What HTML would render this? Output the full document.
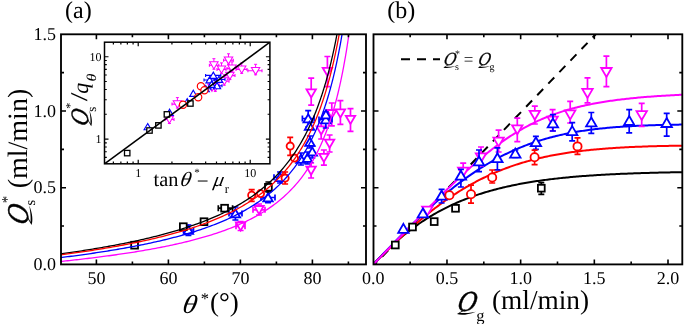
<!DOCTYPE html><html><head><meta charset="utf-8"><style>html,body{margin:0;padding:0;background:#fff;overflow:hidden}svg{display:block;will-change:transform}text{font-family:"Liberation Serif",serif;text-rendering:geometricPrecision}.th text,text.th{stroke:#fff;stroke-width:0px}</style></head><body>
<svg width="685" height="324" viewBox="0 0 685 324">
<defs><clipPath id="ca"><rect x="61" y="34.3" width="305" height="230.1"/></clipPath><clipPath id="cb"><rect x="373.5" y="34.3" width="308.5" height="230.1"/></clipPath><clipPath id="ci"><rect x="104.5" y="42.2" width="165.4" height="121.6"/></clipPath></defs>
<g clip-path="url(#cb)" fill="none" stroke-width="2">
<line x1="374.7" y1="264.4" x2="595.725" y2="34.299999999999955" stroke="#000" stroke-width="2" stroke-dasharray="8.6,7.4" stroke-dashoffset="5.4"/>
<polyline stroke="#000" points="373.3,264.4 374.77,262.8 376.25,261.22 377.72,259.65 379.19,258.11 380.67,256.58 382.14,255.07 383.61,253.58 385.09,252.11 386.56,250.67 388.04,249.24 389.51,247.83 390.98,246.44 392.46,245.07 393.93,243.73 395.4,242.4 396.88,241.09 398.35,239.81 399.82,238.54 401.3,237.29 402.77,236.06 404.24,234.85 405.72,233.66 407.19,232.49 408.66,231.34 410.14,230.2 411.61,229.09 413.08,227.99 414.56,226.91 416.03,225.85 417.5,224.81 418.98,223.78 420.45,222.77 421.93,221.78 423.4,220.8 424.87,219.84 426.35,218.9 427.82,217.98 429.29,217.07 430.77,216.17 432.24,215.29 433.71,214.43 435.19,213.58 436.66,212.75 438.13,211.93 439.61,211.12 441.08,210.33 442.55,209.56 444.03,208.8 445.5,208.05 446.98,207.31 448.45,206.59 449.92,205.88 451.4,205.19 452.87,204.51 454.34,203.84 455.82,203.18 457.29,202.53 458.76,201.9 460.24,201.28 461.71,200.67 463.18,200.07 464.66,199.48 466.13,198.9 467.6,198.34 469.08,197.78 470.55,197.23 472.02,196.7 473.5,196.18 474.97,195.66 476.45,195.16 477.92,194.66 479.39,194.17 480.87,193.7 482.34,193.23 483.81,192.77 485.29,192.32 486.76,191.88 488.23,191.45 489.71,191.03 491.18,190.61 492.65,190.2 494.13,189.8 495.6,189.41 497.07,189.03 498.55,188.65 500.02,188.28 501.49,187.92 502.97,187.57 504.44,187.22 505.92,186.88 507.39,186.54 508.86,186.22 510.34,185.9 511.81,185.58 513.28,185.27 514.76,184.97 516.23,184.68 517.7,184.39 519.18,184.1 520.65,183.82 522.12,183.55 523.6,183.29 525.07,183.02 526.54,182.77 528.02,182.52 529.49,182.27 530.96,182.03 532.44,181.79 533.91,181.56 535.38,181.34 536.86,181.11 538.33,180.9 539.81,180.68 541.28,180.48 542.75,180.27 544.23,180.07 545.7,179.88 547.17,179.69 548.65,179.5 550.12,179.31 551.59,179.13 553.07,178.96 554.54,178.79 556.01,178.62 557.49,178.45 558.96,178.29 560.43,178.13 561.91,177.98 563.38,177.82 564.86,177.68 566.33,177.53 567.8,177.39 569.28,177.25 570.75,177.11 572.22,176.98 573.7,176.85 575.17,176.72 576.64,176.6 578.12,176.47 579.59,176.35 581.06,176.24 582.54,176.12 584.01,176.01 585.48,175.9 586.96,175.79 588.43,175.69 589.9,175.58 591.38,175.48 592.85,175.39 594.33,175.29 595.8,175.2 597.27,175.1 598.75,175.01 600.22,174.92 601.69,174.84 603.17,174.75 604.64,174.67 606.11,174.59 607.59,174.51 609.06,174.43 610.53,174.36 612.01,174.28 613.48,174.21 614.95,174.14 616.43,174.07 617.9,174 619.37,173.94 620.85,173.87 622.32,173.81 623.79,173.75 625.27,173.69 626.74,173.63 628.22,173.57 629.69,173.52 631.16,173.46 632.64,173.41 634.11,173.35 635.58,173.3 637.06,173.25 638.53,173.2 640,173.15 641.48,173.11 642.95,173.06 644.42,173.01 645.9,172.97 647.37,172.93 648.84,172.89 650.32,172.84 651.79,172.8 653.27,172.76 654.74,172.73 656.21,172.69 657.69,172.65 659.16,172.62 660.63,172.58 662.11,172.55 663.58,172.51 665.05,172.48 666.53,172.45 668,172.42 669.47,172.39 670.95,172.36 672.42,172.33 673.89,172.3 675.37,172.27 676.84,172.24 678.31,172.22 679.79,172.19 681.26,172.17 682.74,172.14 684.21,172.12"/>
<polyline stroke="#f00" points="373.3,264.4 374.77,262.92 376.25,261.43 377.72,259.95 379.19,258.48 380.67,257 382.14,255.53 383.61,254.07 385.09,252.61 386.56,251.15 388.04,249.7 389.51,248.26 390.98,246.82 392.46,245.39 393.93,243.97 395.4,242.56 396.88,241.15 398.35,239.75 399.82,238.36 401.3,236.98 402.77,235.6 404.24,234.24 405.72,232.89 407.19,231.54 408.66,230.21 410.14,228.88 411.61,227.57 413.08,226.26 414.56,224.97 416.03,223.69 417.5,222.42 418.98,221.16 420.45,219.91 421.93,218.67 423.4,217.44 424.87,216.23 426.35,215.02 427.82,213.83 429.29,212.65 430.77,211.48 432.24,210.33 433.71,209.19 435.19,208.06 436.66,206.94 438.13,205.83 439.61,204.74 441.08,203.66 442.55,202.59 444.03,201.53 445.5,200.49 446.98,199.46 448.45,198.44 449.92,197.43 451.4,196.44 452.87,195.46 454.34,194.49 455.82,193.54 457.29,192.59 458.76,191.67 460.24,190.75 461.71,189.84 463.18,188.95 464.66,188.07 466.13,187.2 467.6,186.35 469.08,185.51 470.55,184.68 472.02,183.86 473.5,183.05 474.97,182.26 476.45,181.48 477.92,180.71 479.39,179.95 480.87,179.21 482.34,178.48 483.81,177.75 485.29,177.04 486.76,176.35 488.23,175.66 489.71,174.98 491.18,174.32 492.65,173.67 494.13,173.02 495.6,172.39 497.07,171.77 498.55,171.17 500.02,170.57 501.49,169.98 502.97,169.4 504.44,168.84 505.92,168.28 507.39,167.73 508.86,167.2 510.34,166.67 511.81,166.16 513.28,165.65 514.76,165.15 516.23,164.67 517.7,164.19 519.18,163.72 520.65,163.26 522.12,162.81 523.6,162.37 525.07,161.94 526.54,161.52 528.02,161.1 529.49,160.7 530.96,160.3 532.44,159.91 533.91,159.53 535.38,159.16 536.86,158.79 538.33,158.44 539.81,158.09 541.28,157.74 542.75,157.41 544.23,157.08 545.7,156.76 547.17,156.45 548.65,156.14 550.12,155.84 551.59,155.55 553.07,155.27 554.54,154.99 556.01,154.72 557.49,154.45 558.96,154.19 560.43,153.94 561.91,153.69 563.38,153.45 564.86,153.21 566.33,152.98 567.8,152.75 569.28,152.54 570.75,152.32 572.22,152.11 573.7,151.91 575.17,151.71 576.64,151.52 578.12,151.33 579.59,151.14 581.06,150.97 582.54,150.79 584.01,150.62 585.48,150.45 586.96,150.29 588.43,150.14 589.9,149.98 591.38,149.83 592.85,149.69 594.33,149.55 595.8,149.41 597.27,149.28 598.75,149.15 600.22,149.02 601.69,148.9 603.17,148.78 604.64,148.66 606.11,148.55 607.59,148.44 609.06,148.33 610.53,148.23 612.01,148.13 613.48,148.03 614.95,147.93 616.43,147.84 617.9,147.75 619.37,147.66 620.85,147.58 622.32,147.5 623.79,147.42 625.27,147.34 626.74,147.26 628.22,147.19 629.69,147.12 631.16,147.05 632.64,146.98 634.11,146.92 635.58,146.86 637.06,146.8 638.53,146.74 640,146.68 641.48,146.63 642.95,146.57 644.42,146.52 645.9,146.47 647.37,146.42 648.84,146.37 650.32,146.33 651.79,146.28 653.27,146.24 654.74,146.2 656.21,146.16 657.69,146.12 659.16,146.08 660.63,146.05 662.11,146.01 663.58,145.98 665.05,145.95 666.53,145.91 668,145.88 669.47,145.85 670.95,145.82 672.42,145.8 673.89,145.77 675.37,145.74 676.84,145.72 678.31,145.7 679.79,145.67 681.26,145.65 682.74,145.63 684.21,145.61"/>
<polyline stroke="#00f" points="373.3,264.4 374.77,262.85 376.25,261.3 377.72,259.74 379.19,258.19 380.67,256.65 382.14,255.1 383.61,253.55 385.09,252.01 386.56,250.47 388.04,248.93 389.51,247.4 390.98,245.87 392.46,244.34 393.93,242.82 395.4,241.3 396.88,239.79 398.35,238.28 399.82,236.77 401.3,235.27 402.77,233.78 404.24,232.29 405.72,230.81 407.19,229.34 408.66,227.87 410.14,226.41 411.61,224.96 413.08,223.51 414.56,222.07 416.03,220.64 417.5,219.22 418.98,217.8 420.45,216.4 421.93,215 423.4,213.61 424.87,212.23 426.35,210.86 427.82,209.5 429.29,208.15 430.77,206.81 432.24,205.48 433.71,204.16 435.19,202.85 436.66,201.55 438.13,200.26 439.61,198.98 441.08,197.71 442.55,196.46 444.03,195.21 445.5,193.98 446.98,192.75 448.45,191.54 449.92,190.34 451.4,189.16 452.87,187.98 454.34,186.82 455.82,185.66 457.29,184.52 458.76,183.4 460.24,182.28 461.71,181.18 463.18,180.09 464.66,179.01 466.13,177.95 467.6,176.89 469.08,175.85 470.55,174.83 472.02,173.81 473.5,172.81 474.97,171.82 476.45,170.84 477.92,169.88 479.39,168.93 480.87,167.99 482.34,167.07 483.81,166.15 485.29,165.25 486.76,164.37 488.23,163.49 489.71,162.63 491.18,161.78 492.65,160.95 494.13,160.13 495.6,159.32 497.07,158.52 498.55,157.73 500.02,156.96 501.49,156.2 502.97,155.45 504.44,154.72 505.92,153.99 507.39,153.28 508.86,152.58 510.34,151.9 511.81,151.22 513.28,150.56 514.76,149.91 516.23,149.27 517.7,148.64 519.18,148.02 520.65,147.42 522.12,146.83 523.6,146.24 525.07,145.67 526.54,145.11 528.02,144.56 529.49,144.03 530.96,143.5 532.44,142.98 533.91,142.48 535.38,141.98 536.86,141.5 538.33,141.02 539.81,140.56 541.28,140.1 542.75,139.65 544.23,139.22 545.7,138.79 547.17,138.38 548.65,137.97 550.12,137.57 551.59,137.18 553.07,136.8 554.54,136.43 556.01,136.07 557.49,135.71 558.96,135.37 560.43,135.03 561.91,134.7 563.38,134.38 564.86,134.07 566.33,133.76 567.8,133.46 569.28,133.17 570.75,132.89 572.22,132.61 573.7,132.34 575.17,132.08 576.64,131.83 578.12,131.58 579.59,131.34 581.06,131.1 582.54,130.87 584.01,130.65 585.48,130.44 586.96,130.23 588.43,130.02 589.9,129.82 591.38,129.63 592.85,129.44 594.33,129.26 595.8,129.08 597.27,128.91 598.75,128.74 600.22,128.58 601.69,128.43 603.17,128.27 604.64,128.13 606.11,127.98 607.59,127.84 609.06,127.71 610.53,127.58 612.01,127.45 613.48,127.33 614.95,127.21 616.43,127.1 617.9,126.99 619.37,126.88 620.85,126.78 622.32,126.68 623.79,126.58 625.27,126.49 626.74,126.39 628.22,126.31 629.69,126.22 631.16,126.14 632.64,126.06 634.11,125.99 635.58,125.91 637.06,125.84 638.53,125.77 640,125.71 641.48,125.64 642.95,125.58 644.42,125.52 645.9,125.46 647.37,125.41 648.84,125.36 650.32,125.31 651.79,125.26 653.27,125.21 654.74,125.16 656.21,125.12 657.69,125.08 659.16,125.04 660.63,125 662.11,124.96 663.58,124.92 665.05,124.89 666.53,124.86 668,124.82 669.47,124.79 670.95,124.76 672.42,124.74 673.89,124.71 675.37,124.68 676.84,124.66 678.31,124.63 679.79,124.61 681.26,124.59 682.74,124.57 684.21,124.55"/>
<polyline stroke="#f0f" points="373.3,264.4 374.77,262.89 376.25,261.38 377.72,259.87 379.19,258.36 380.67,256.85 382.14,255.34 383.61,253.83 385.09,252.32 386.56,250.81 388.04,249.3 389.51,247.79 390.98,246.28 392.46,244.77 393.93,243.26 395.4,241.75 396.88,240.24 398.35,238.73 399.82,237.22 401.3,235.71 402.77,234.2 404.24,232.69 405.72,231.18 407.19,229.68 408.66,228.17 410.14,226.66 411.61,225.16 413.08,223.65 414.56,222.15 416.03,220.65 417.5,219.15 418.98,217.65 420.45,216.15 421.93,214.65 423.4,213.15 424.87,211.66 426.35,210.17 427.82,208.68 429.29,207.19 430.77,205.7 432.24,204.22 433.71,202.74 435.19,201.26 436.66,199.79 438.13,198.32 439.61,196.85 441.08,195.39 442.55,193.93 444.03,192.48 445.5,191.03 446.98,189.58 448.45,188.14 449.92,186.71 451.4,185.28 452.87,183.86 454.34,182.44 455.82,181.03 457.29,179.63 458.76,178.23 460.24,176.85 461.71,175.47 463.18,174.09 464.66,172.73 466.13,171.38 467.6,170.03 469.08,168.69 470.55,167.37 472.02,166.05 473.5,164.74 474.97,163.45 476.45,162.16 477.92,160.89 479.39,159.63 480.87,158.37 482.34,157.14 483.81,155.91 485.29,154.7 486.76,153.5 488.23,152.31 489.71,151.13 491.18,149.97 492.65,148.83 494.13,147.69 495.6,146.57 497.07,145.47 498.55,144.38 500.02,143.3 501.49,142.24 502.97,141.2 504.44,140.17 505.92,139.15 507.39,138.15 508.86,137.17 510.34,136.2 511.81,135.25 513.28,134.31 514.76,133.39 516.23,132.48 517.7,131.59 519.18,130.71 520.65,129.85 522.12,129.01 523.6,128.18 525.07,127.36 526.54,126.56 528.02,125.78 529.49,125.01 530.96,124.26 532.44,123.52 533.91,122.79 535.38,122.08 536.86,121.39 538.33,120.71 539.81,120.04 541.28,119.39 542.75,118.75 544.23,118.12 545.7,117.51 547.17,116.91 548.65,116.33 550.12,115.75 551.59,115.19 553.07,114.65 554.54,114.11 556.01,113.59 557.49,113.08 558.96,112.58 560.43,112.09 561.91,111.61 563.38,111.14 564.86,110.69 566.33,110.24 567.8,109.81 569.28,109.39 570.75,108.97 572.22,108.57 573.7,108.17 575.17,107.79 576.64,107.41 578.12,107.04 579.59,106.68 581.06,106.33 582.54,105.99 584.01,105.66 585.48,105.33 586.96,105.02 588.43,104.71 589.9,104.4 591.38,104.11 592.85,103.82 594.33,103.54 595.8,103.26 597.27,103 598.75,102.74 600.22,102.48 601.69,102.23 603.17,101.99 604.64,101.75 606.11,101.52 607.59,101.3 609.06,101.07 610.53,100.86 612.01,100.65 613.48,100.45 614.95,100.25 616.43,100.05 617.9,99.86 619.37,99.67 620.85,99.49 622.32,99.32 623.79,99.14 625.27,98.97 626.74,98.81 628.22,98.65 629.69,98.49 631.16,98.34 632.64,98.19 634.11,98.04 635.58,97.9 637.06,97.76 638.53,97.62 640,97.49 641.48,97.36 642.95,97.23 644.42,97.11 645.9,96.99 647.37,96.87 648.84,96.75 650.32,96.64 651.79,96.53 653.27,96.42 654.74,96.31 656.21,96.21 657.69,96.11 659.16,96.01 660.63,95.91 662.11,95.82 663.58,95.73 665.05,95.64 666.53,95.55 668,95.46 669.47,95.38 670.95,95.3 672.42,95.22 673.89,95.14 675.37,95.06 676.84,94.98 678.31,94.91 679.79,94.84 681.26,94.77 682.74,94.7 684.21,94.63"/>
</g>
<path d="M240.6 221.5V230.5M237.6 221.5h6M237.6 230.5h6" stroke="#f0f" stroke-width="1.7" fill="none"/>
<path d="M236 226.3H245M236 223.3v6M245 223.3v6" stroke="#f0f" stroke-width="1.7" fill="none"/>
<path d="M259 204V215M256 204h6M256 215h6" stroke="#f0f" stroke-width="1.7" fill="none"/>
<path d="M253 209.8H265M253 206.8v6M265 206.8v6" stroke="#f0f" stroke-width="1.7" fill="none"/>
<path d="M311.1 163V178M308.1 163h6M308.1 178h6" stroke="#f0f" stroke-width="1.7" fill="none"/>
<path d="M323.9 150V165.1M320.9 150h6M320.9 165.1h6" stroke="#f0f" stroke-width="1.7" fill="none"/>
<path d="M329.6 135V152M326.6 135h6M326.6 152h6" stroke="#f0f" stroke-width="1.7" fill="none"/>
<path d="M321.2 123V139M318.2 123h6M318.2 139h6" stroke="#f0f" stroke-width="1.7" fill="none"/>
<path d="M331.8 103V125.9M328.8 103h6M328.8 125.9h6" stroke="#f0f" stroke-width="1.7" fill="none"/>
<path d="M340.4 100.6V124.4M337.4 100.6h6M337.4 124.4h6" stroke="#f0f" stroke-width="1.7" fill="none"/>
<path d="M350.5 108.6V131.4M347.5 108.6h6M347.5 131.4h6" stroke="#f0f" stroke-width="1.7" fill="none"/>
<path d="M311.2 78.1V105.1M308.2 78.1h6M308.2 105.1h6" stroke="#f0f" stroke-width="1.7" fill="none"/>
<path d="M327.4 56.5V86.7M324.4 56.5h6M324.4 86.7h6" stroke="#f0f" stroke-width="1.7" fill="none"/>
<polygon points="240.6,230.58 245.3,222.5 235.9,222.5" fill="#fff" stroke="#f0f" stroke-width="1.8"/>
<polygon points="259,214.08 263.7,206 254.3,206" fill="#fff" stroke="#f0f" stroke-width="1.8"/>
<polygon points="311.1,174.68 315.8,166.6 306.4,166.6" fill="#fff" stroke="#f0f" stroke-width="1.8"/>
<polygon points="323.9,161.88 328.6,153.8 319.2,153.8" fill="#fff" stroke="#f0f" stroke-width="1.8"/>
<polygon points="329.6,147.78 334.3,139.7 324.9,139.7" fill="#fff" stroke="#f0f" stroke-width="1.8"/>
<polygon points="321.2,134.48 325.9,126.4 316.5,126.4" fill="#fff" stroke="#f0f" stroke-width="1.8"/>
<polygon points="331.8,118.08 336.5,110 327.1,110" fill="#fff" stroke="#f0f" stroke-width="1.8"/>
<polygon points="340.4,117.48 345.1,109.4 335.7,109.4" fill="#fff" stroke="#f0f" stroke-width="1.8"/>
<polygon points="350.5,123.88 355.2,115.8 345.8,115.8" fill="#fff" stroke="#f0f" stroke-width="1.8"/>
<polygon points="311.2,97.48 315.9,89.4 306.5,89.4" fill="#fff" stroke="#f0f" stroke-width="1.8"/>
<polygon points="327.4,75.88 332.1,67.8 322.7,67.8" fill="#fff" stroke="#f0f" stroke-width="1.8"/>
<path d="M188.4 225V235.5M185.4 225h6M185.4 235.5h6" stroke="#00f" stroke-width="1.7" fill="none"/>
<path d="M183.5 230H193.5M183.5 227v6M193.5 227v6" stroke="#00f" stroke-width="1.7" fill="none"/>
<path d="M235.4 207V220M232.4 207h6M232.4 220h6" stroke="#00f" stroke-width="1.7" fill="none"/>
<path d="M229 213.6H242M229 210.6v6M242 210.6v6" stroke="#00f" stroke-width="1.7" fill="none"/>
<path d="M268 191V202.7M265 191h6M265 202.7h6" stroke="#00f" stroke-width="1.7" fill="none"/>
<path d="M261 197.5H275M261 194.5v6M275 194.5v6" stroke="#00f" stroke-width="1.7" fill="none"/>
<path d="M280.1 172V183M277.1 172h6M277.1 183h6" stroke="#00f" stroke-width="1.7" fill="none"/>
<path d="M274 177.3H287M274 174.3v6M287 174.3v6" stroke="#00f" stroke-width="1.7" fill="none"/>
<path d="M300.9 153V165M297.9 153h6M297.9 165h6" stroke="#00f" stroke-width="1.7" fill="none"/>
<path d="M307.4 152V164M304.4 152h6M304.4 164h6" stroke="#00f" stroke-width="1.7" fill="none"/>
<path d="M312.3 146V158M309.3 146h6M309.3 158h6" stroke="#00f" stroke-width="1.7" fill="none"/>
<path d="M309.9 136V148M306.9 136h6M306.9 148h6" stroke="#00f" stroke-width="1.7" fill="none"/>
<path d="M308.2 110.6V127M305.2 110.6h6M305.2 127h6" stroke="#00f" stroke-width="1.7" fill="none"/>
<path d="M302.4 118.5H314.1M302.4 115.5v6M314.1 115.5v6" stroke="#00f" stroke-width="1.7" fill="none"/>
<path d="M325.8 112V128M322.8 112h6M322.8 128h6" stroke="#00f" stroke-width="1.7" fill="none"/>
<path d="M319 119.5H332M319 116.5v6M332 116.5v6" stroke="#00f" stroke-width="1.7" fill="none"/>
<polygon points="188.4,225.72 193.1,233.8 183.7,233.8" fill="#fff" stroke="#00f" stroke-width="1.8"/>
<polygon points="235.4,209.32 240.1,217.4 230.7,217.4" fill="#fff" stroke="#00f" stroke-width="1.8"/>
<polygon points="268,193.22 272.7,201.3 263.3,201.3" fill="#fff" stroke="#00f" stroke-width="1.8"/>
<polygon points="280.1,173.02 284.8,181.1 275.4,181.1" fill="#fff" stroke="#00f" stroke-width="1.8"/>
<polygon points="300.9,154.72 305.6,162.8 296.2,162.8" fill="#fff" stroke="#00f" stroke-width="1.8"/>
<polygon points="307.4,153.82 312.1,161.9 302.7,161.9" fill="#fff" stroke="#00f" stroke-width="1.8"/>
<polygon points="312.3,147.42 317,155.5 307.6,155.5" fill="#fff" stroke="#00f" stroke-width="1.8"/>
<polygon points="309.9,137.72 314.6,145.8 305.2,145.8" fill="#fff" stroke="#00f" stroke-width="1.8"/>
<polygon points="308.2,114.22 312.9,122.3 303.5,122.3" fill="#fff" stroke="#00f" stroke-width="1.8"/>
<polygon points="309.5,121.72 314.2,129.8 304.8,129.8" fill="#fff" stroke="#00f" stroke-width="1.8"/>
<polygon points="325.8,115.22 330.5,123.3 321.1,123.3" fill="#fff" stroke="#00f" stroke-width="1.8"/>
<polygon points="325.9,110.22 330.6,118.3 321.2,118.3" fill="#fff" stroke="#00f" stroke-width="1.8"/>
<path d="M251.7 189.6V201.4M248.7 189.6h6M248.7 201.4h6" stroke="#f00" stroke-width="1.7" fill="none"/>
<path d="M285.1 172V184M282.1 172h6M282.1 184h6" stroke="#f00" stroke-width="1.7" fill="none"/>
<path d="M290.2 137.4V155.4M287.2 137.4h6M287.2 155.4h6" stroke="#f00" stroke-width="1.7" fill="none"/>
<circle cx="251.7" cy="195.2" r="3.6" fill="#fff" stroke="#f00" stroke-width="1.8"/>
<circle cx="260.5" cy="193.6" r="3.6" fill="#fff" stroke="#f00" stroke-width="1.8"/>
<circle cx="285.1" cy="178.1" r="3.6" fill="#fff" stroke="#f00" stroke-width="1.8"/>
<circle cx="290.2" cy="146.1" r="3.6" fill="#fff" stroke="#f00" stroke-width="1.8"/>
<circle cx="294.4" cy="158.1" r="3.6" fill="#fff" stroke="#f00" stroke-width="1.8"/>
<path d="M218.3 208.2H232.6M218.3 205.2v6M232.6 205.2v6" stroke="#000" stroke-width="1.7" fill="none"/>
<path d="M268.4 182V192M265.4 182h6M265.4 192h6" stroke="#000" stroke-width="1.7" fill="none"/>
<rect x="131.2" y="241.8" width="6.8" height="6.8" fill="#fff" stroke="#000" stroke-width="1.8"/>
<rect x="179.9" y="223.3" width="6.8" height="6.8" fill="#fff" stroke="#000" stroke-width="1.8"/>
<rect x="200.6" y="218.3" width="6.8" height="6.8" fill="#fff" stroke="#000" stroke-width="1.8"/>
<rect x="221.2" y="204.8" width="6.8" height="6.8" fill="#fff" stroke="#000" stroke-width="1.8"/>
<rect x="265" y="183.9" width="6.8" height="6.8" fill="#fff" stroke="#000" stroke-width="1.8"/>
<g clip-path="url(#ca)" fill="none" stroke-width="1.3">
<polyline stroke="#000" points="60.4,253.96 62.2,253.71 64,253.46 65.8,253.2 67.6,252.94 69.4,252.68 71.2,252.42 73,252.16 74.8,251.89 76.6,251.62 78.4,251.34 80.2,251.07 82,250.79 83.8,250.51 85.6,250.23 87.4,249.94 89.2,249.65 91,249.36 92.8,249.06 94.6,248.76 96.4,248.46 98.2,248.16 100,247.85 101.8,247.54 103.6,247.23 105.4,246.91 107.2,246.59 109,246.26 110.8,245.93 112.6,245.6 114.4,245.27 116.2,244.93 118,244.58 119.8,244.23 121.6,243.88 123.4,243.53 125.2,243.17 127,242.8 128.8,242.43 130.6,242.06 132.4,241.68 134.2,241.3 136,240.91 137.8,240.52 139.6,240.12 141.4,239.72 143.2,239.31 145,238.9 146.8,238.48 148.6,238.05 150.4,237.62 152.2,237.19 154,236.74 155.8,236.29 157.6,235.84 159.4,235.38 161.2,234.91 163,234.43 164.8,233.95 166.6,233.46 168.4,232.96 170.2,232.46 172,231.95 173.8,231.43 175.6,230.9 177.4,230.36 179.2,229.82 181,229.26 182.8,228.7 184.6,228.13 186.4,227.54 188.2,226.95 190,226.35 191.8,225.74 193.6,225.12 195.4,224.48 197.2,223.84 199,223.18 200.8,222.51 202.6,221.83 204.4,221.13 206.2,220.43 208,219.7 209.8,218.97 211.6,218.22 213.4,217.46 215.2,216.68 217,215.88 218.8,215.07 220.6,214.24 222.4,213.4 224.2,212.53 226,211.65 227.8,210.75 229.6,209.83 231.4,208.88 233.2,207.92 235,206.94 236.8,205.93 238.6,204.89 240.4,203.84 242.2,202.75 244,201.64 245.8,200.51 247.6,199.34 249.4,198.14 251.2,196.92 253,195.66 254.8,194.36 256.6,193.04 258.4,191.67 260.2,190.27 262,188.82 263.8,187.34 265.6,185.81 267.4,184.23 269.2,182.61 271,180.94 272.8,179.21 274.6,177.43 276.4,175.59 278.2,173.69 280,171.73 281.8,169.7 283.6,167.6 285.4,165.42 287.2,163.16 289,160.83 290.8,158.4 292.6,155.88 294.4,153.26 296.2,150.53 298,147.69 299.8,144.74 301.6,141.65 303.4,138.44 305.2,135.07 307,131.56 308.8,127.88 310.6,124.02 312.4,119.96 312.76,119.13 313.12,118.29 313.48,117.44 313.84,116.58 314.2,115.71 314.56,114.83 314.92,113.94 315.28,113.05 315.64,112.14 316,111.23 316.36,110.31 316.72,109.37 317.08,108.43 317.44,107.48 317.8,106.51 318.16,105.54 318.52,104.55 318.88,103.56 319.24,102.55 319.6,101.53 319.96,100.51 320.32,99.47 320.68,98.41 321.04,97.35 321.4,96.28 321.76,95.19 322.12,94.09 322.48,92.97 322.84,91.85 323.2,90.71 323.56,89.56 323.92,88.39 324.28,87.21 324.64,86.02 325,84.81 325.36,83.58 325.72,82.35 326.08,81.09 326.44,79.82 326.8,78.54 327.16,77.24 327.52,75.92 327.88,74.59 328.24,73.24 328.6,71.87 328.96,70.49 329.32,69.08 329.68,67.66 330.04,66.22 330.4,64.76 330.76,63.28 331.12,61.78 331.48,60.26 331.84,58.72 332.2,57.16 332.56,55.58 332.92,53.97 333.28,52.35 333.64,50.7 334,49.02 334.36,47.33 334.72,45.6 335.08,43.86 335.44,42.08 335.8,40.28 336.16,38.46 336.52,36.61 336.88,34.73 337.24,32.82 337.6,30.88 337.96,28.91 338.32,26.91 338.68,24.88 339.04,22.82 339.4,20.72 339.76,18.59"/>
<polyline stroke="#f00" points="60.4,254.91 62.2,254.67 64,254.43 65.8,254.19 67.6,253.94 69.4,253.7 71.2,253.45 73,253.19 74.8,252.94 76.6,252.68 78.4,252.42 80.2,252.16 82,251.9 83.8,251.63 85.6,251.36 87.4,251.09 89.2,250.81 91,250.53 92.8,250.25 94.6,249.97 96.4,249.68 98.2,249.39 100,249.1 101.8,248.8 103.6,248.5 105.4,248.2 107.2,247.9 109,247.59 110.8,247.27 112.6,246.96 114.4,246.64 116.2,246.32 118,245.99 119.8,245.66 121.6,245.32 123.4,244.99 125.2,244.64 127,244.3 128.8,243.94 130.6,243.59 132.4,243.23 134.2,242.87 136,242.5 137.8,242.12 139.6,241.75 141.4,241.36 143.2,240.97 145,240.58 146.8,240.18 148.6,239.78 150.4,239.37 152.2,238.95 154,238.53 155.8,238.1 157.6,237.67 159.4,237.23 161.2,236.79 163,236.33 164.8,235.87 166.6,235.41 168.4,234.94 170.2,234.46 172,233.97 173.8,233.47 175.6,232.97 177.4,232.46 179.2,231.94 181,231.42 182.8,230.88 184.6,230.33 186.4,229.78 188.2,229.22 190,228.64 191.8,228.06 193.6,227.47 195.4,226.87 197.2,226.25 199,225.63 200.8,224.99 202.6,224.34 204.4,223.68 206.2,223.01 208,222.32 209.8,221.62 211.6,220.91 213.4,220.18 215.2,219.44 217,218.69 218.8,217.91 220.6,217.12 222.4,216.32 224.2,215.5 226,214.66 227.8,213.8 229.6,212.92 231.4,212.03 233.2,211.11 235,210.17 236.8,209.21 238.6,208.23 240.4,207.23 242.2,206.2 244,205.14 245.8,204.06 247.6,202.95 249.4,201.81 251.2,200.64 253,199.44 254.8,198.21 256.6,196.95 258.4,195.65 260.2,194.32 262,192.94 263.8,191.53 265.6,190.07 267.4,188.58 269.2,187.03 271,185.44 272.8,183.8 274.6,182.11 276.4,180.36 278.2,178.55 280,176.68 281.8,174.75 283.6,172.75 285.4,170.68 287.2,168.53 289,166.31 290.8,164 292.6,161.6 294.4,159.11 296.2,156.51 298,153.82 299.8,151 301.6,148.07 303.4,145.01 305.2,141.81 307,138.46 308.8,134.96 310.6,131.29 312.4,127.44 312.76,126.64 313.12,125.84 313.48,125.03 313.84,124.21 314.2,123.39 314.56,122.55 314.92,121.71 315.28,120.86 315.64,120 316,119.13 316.36,118.25 316.72,117.36 317.08,116.46 317.44,115.55 317.8,114.64 318.16,113.71 318.52,112.77 318.88,111.83 319.24,110.87 319.6,109.9 319.96,108.92 320.32,107.93 320.68,106.93 321.04,105.92 321.4,104.9 321.76,103.86 322.12,102.82 322.48,101.76 322.84,100.69 323.2,99.6 323.56,98.51 323.92,97.4 324.28,96.27 324.64,95.14 325,93.99 325.36,92.83 325.72,91.65 326.08,90.46 326.44,89.25 326.8,88.03 327.16,86.79 327.52,85.54 327.88,84.27 328.24,82.98 328.6,81.68 328.96,80.36 329.32,79.03 329.68,77.68 330.04,76.31 330.4,74.92 330.76,73.51 331.12,72.08 331.48,70.64 331.84,69.17 332.2,67.69 332.56,66.18 332.92,64.66 333.28,63.11 333.64,61.54 334,59.95 334.36,58.33 334.72,56.69 335.08,55.03 335.44,53.34 335.8,51.63 336.16,49.9 336.52,48.13 336.88,46.34 337.24,44.53 337.6,42.68 337.96,40.81 338.32,38.91 338.68,36.98 339.04,35.02 339.4,33.02 339.76,31 340.12,28.94 340.48,26.85 340.84,24.72 341.2,22.56 341.56,20.36 341.92,18.13"/>
<polyline stroke="#00f" points="60.4,257.64 62.2,257.42 64,257.19 65.8,256.96 67.6,256.73 69.4,256.5 71.2,256.26 73,256.02 74.8,255.79 76.6,255.54 78.4,255.3 80.2,255.05 82,254.8 83.8,254.55 85.6,254.3 87.4,254.04 89.2,253.78 91,253.52 92.8,253.26 94.6,252.99 96.4,252.72 98.2,252.45 100,252.18 101.8,251.9 103.6,251.62 105.4,251.33 107.2,251.05 109,250.76 110.8,250.46 112.6,250.16 114.4,249.86 116.2,249.56 118,249.25 119.8,248.94 121.6,248.63 123.4,248.31 125.2,247.99 127,247.66 128.8,247.33 130.6,247 132.4,246.66 134.2,246.32 136,245.97 137.8,245.62 139.6,245.26 141.4,244.9 143.2,244.54 145,244.17 146.8,243.79 148.6,243.42 150.4,243.03 152.2,242.64 154,242.24 155.8,241.84 157.6,241.44 159.4,241.02 161.2,240.6 163,240.18 164.8,239.75 166.6,239.31 168.4,238.87 170.2,238.41 172,237.96 173.8,237.49 175.6,237.02 177.4,236.54 179.2,236.05 181,235.56 182.8,235.05 184.6,234.54 186.4,234.02 188.2,233.49 190,232.95 191.8,232.4 193.6,231.85 195.4,231.28 197.2,230.7 199,230.12 200.8,229.52 202.6,228.91 204.4,228.29 206.2,227.65 208,227.01 209.8,226.35 211.6,225.68 213.4,225 215.2,224.3 217,223.59 218.8,222.87 220.6,222.13 222.4,221.37 224.2,220.6 226,219.81 227.8,219 229.6,218.18 231.4,217.34 233.2,216.47 235,215.59 236.8,214.69 238.6,213.77 240.4,212.82 242.2,211.85 244,210.86 245.8,209.84 247.6,208.8 249.4,207.73 251.2,206.63 253,205.51 254.8,204.35 256.6,203.16 258.4,201.94 260.2,200.69 262,199.4 263.8,198.07 265.6,196.7 267.4,195.29 269.2,193.84 271,192.35 272.8,190.8 274.6,189.21 276.4,187.57 278.2,185.87 280,184.11 281.8,182.3 283.6,180.42 285.4,178.47 287.2,176.46 289,174.36 290.8,172.19 292.6,169.94 294.4,167.6 296.2,165.16 298,162.62 299.8,159.98 301.6,157.22 303.4,154.35 305.2,151.34 307,148.2 308.8,144.9 310.6,141.45 312.4,137.83 312.76,137.08 313.12,136.33 313.48,135.57 313.84,134.8 314.2,134.02 314.56,133.24 314.92,132.45 315.28,131.65 315.64,130.84 316,130.02 316.36,129.19 316.72,128.36 317.08,127.52 317.44,126.66 317.8,125.8 318.16,124.93 318.52,124.05 318.88,123.16 319.24,122.26 319.6,121.35 319.96,120.43 320.32,119.5 320.68,118.56 321.04,117.61 321.4,116.65 321.76,115.68 322.12,114.69 322.48,113.7 322.84,112.69 323.2,111.67 323.56,110.64 323.92,109.6 324.28,108.54 324.64,107.48 325,106.4 325.36,105.3 325.72,104.2 326.08,103.07 326.44,101.94 326.8,100.79 327.16,99.63 327.52,98.45 327.88,97.26 328.24,96.05 328.6,94.83 328.96,93.59 329.32,92.33 329.68,91.06 330.04,89.78 330.4,88.47 330.76,87.15 331.12,85.81 331.48,84.45 331.84,83.07 332.2,81.68 332.56,80.26 332.92,78.83 333.28,77.37 333.64,75.9 334,74.4 334.36,72.88 334.72,71.34 335.08,69.78 335.44,68.2 335.8,66.59 336.16,64.96 336.52,63.3 336.88,61.62 337.24,59.91 337.6,58.18 337.96,56.42 338.32,54.63 338.68,52.81 339.04,50.97 339.4,49.1 339.76,47.19 340.12,45.26 340.48,43.29 340.84,41.29 341.2,39.26 341.56,37.2 341.92,35.09 342.28,32.96 342.64,30.79 343,28.57 343.36,26.33 343.72,24.04 344.08,21.71 344.44,19.34"/>
<polyline stroke="#f0f" points="60.4,261.5 62.2,261.31 64,261.12 65.8,260.93 67.6,260.73 69.4,260.54 71.2,260.34 73,260.14 74.8,259.94 76.6,259.74 78.4,259.54 80.2,259.33 82,259.12 83.8,258.91 85.6,258.7 87.4,258.49 89.2,258.27 91,258.05 92.8,257.83 94.6,257.61 96.4,257.38 98.2,257.16 100,256.93 101.8,256.69 103.6,256.46 105.4,256.22 107.2,255.98 109,255.74 110.8,255.49 112.6,255.24 114.4,254.99 116.2,254.74 118,254.48 119.8,254.22 121.6,253.96 123.4,253.69 125.2,253.42 127,253.15 128.8,252.88 130.6,252.6 132.4,252.31 134.2,252.03 136,251.74 137.8,251.44 139.6,251.15 141.4,250.85 143.2,250.54 145,250.23 146.8,249.92 148.6,249.6 150.4,249.28 152.2,248.95 154,248.62 155.8,248.29 157.6,247.95 159.4,247.6 161.2,247.25 163,246.9 164.8,246.53 166.6,246.17 168.4,245.8 170.2,245.42 172,245.04 173.8,244.65 175.6,244.25 177.4,243.85 179.2,243.44 181,243.03 182.8,242.61 184.6,242.18 186.4,241.75 188.2,241.3 190,240.85 191.8,240.39 193.6,239.93 195.4,239.45 197.2,238.97 199,238.48 200.8,237.98 202.6,237.47 204.4,236.95 206.2,236.42 208,235.88 209.8,235.33 211.6,234.77 213.4,234.2 215.2,233.62 217,233.03 218.8,232.42 220.6,231.8 222.4,231.17 224.2,230.52 226,229.86 227.8,229.19 229.6,228.5 231.4,227.8 233.2,227.07 235,226.34 236.8,225.58 238.6,224.81 240.4,224.02 242.2,223.21 244,222.38 245.8,221.53 247.6,220.66 249.4,219.77 251.2,218.85 253,217.91 254.8,216.94 256.6,215.95 258.4,214.93 260.2,213.88 262,212.8 263.8,211.69 265.6,210.54 267.4,209.37 269.2,208.15 271,206.9 272.8,205.61 274.6,204.28 276.4,202.91 278.2,201.49 280,200.02 281.8,198.5 283.6,196.93 285.4,195.3 287.2,193.62 289,191.87 290.8,190.05 292.6,188.17 294.4,186.21 296.2,184.17 298,182.05 299.8,179.84 301.6,177.53 303.4,175.13 305.2,172.62 307,169.99 308.8,167.23 310.6,164.35 312.4,161.32 312.76,160.7 313.12,160.07 313.48,159.43 313.84,158.79 314.2,158.14 314.56,157.48 314.92,156.82 315.28,156.15 315.64,155.47 316,154.79 316.36,154.1 316.72,153.4 317.08,152.7 317.44,151.98 317.8,151.26 318.16,150.53 318.52,149.8 318.88,149.05 319.24,148.3 319.6,147.54 319.96,146.77 320.32,145.99 320.68,145.21 321.04,144.41 321.4,143.61 321.76,142.8 322.12,141.97 322.48,141.14 322.84,140.3 323.2,139.45 323.56,138.59 323.92,137.71 324.28,136.83 324.64,135.94 325,135.04 325.36,134.12 325.72,133.2 326.08,132.26 326.44,131.31 326.8,130.35 327.16,129.38 327.52,128.39 327.88,127.4 328.24,126.39 328.6,125.36 328.96,124.33 329.32,123.28 329.68,122.22 330.04,121.14 330.4,120.05 330.76,118.94 331.12,117.82 331.48,116.69 331.84,115.53 332.2,114.37 332.56,113.18 332.92,111.98 333.28,110.77 333.64,109.53 334,108.28 334.36,107.01 334.72,105.73 335.08,104.42 335.44,103.1 335.8,101.75 336.16,100.39 336.52,99 336.88,97.6 337.24,96.17 337.6,94.72 337.96,93.25 338.32,91.75 338.68,90.23 339.04,88.69 339.4,87.13 339.76,85.53 340.12,83.92 340.48,82.27 340.84,80.6 341.2,78.9 341.56,77.18 341.92,75.42 342.28,73.63 342.64,71.82 343,69.97 343.36,68.09 343.72,66.17 344.08,64.23 344.44,62.24 344.8,60.22 345.16,58.17 345.52,56.07 345.88,53.94 346.24,51.77 346.6,49.55 346.96,47.3 347.32,45 347.68,42.65 348.04,40.26 348.4,37.82 348.76,35.33 349.12,32.79 349.48,30.2 349.84,27.56 350.2,24.86 350.56,22.1 350.92,19.28"/>
</g>
<path d="M463.2 163.1V179M460.2 163.1h6M460.2 179h6" stroke="#f0f" stroke-width="1.7" fill="none"/>
<path d="M481 147V166M478 147h6M478 166h6" stroke="#f0f" stroke-width="1.7" fill="none"/>
<path d="M498.6 130.1V152M495.6 130.1h6M495.6 152h6" stroke="#f0f" stroke-width="1.7" fill="none"/>
<path d="M517.3 118.2V141.7M514.3 118.2h6M514.3 141.7h6" stroke="#f0f" stroke-width="1.7" fill="none"/>
<path d="M534.8 106.2V124M531.8 106.2h6M531.8 124h6" stroke="#f0f" stroke-width="1.7" fill="none"/>
<path d="M552.6 109.6V130.9M549.6 109.6h6M549.6 130.9h6" stroke="#f0f" stroke-width="1.7" fill="none"/>
<path d="M570.2 101.3V123M567.2 101.3h6M567.2 123h6" stroke="#f0f" stroke-width="1.7" fill="none"/>
<path d="M587.5 77.8V102.8M584.5 77.8h6M584.5 102.8h6" stroke="#f0f" stroke-width="1.7" fill="none"/>
<path d="M606.4 56.1V86.7M603.4 56.1h6M603.4 86.7h6" stroke="#f0f" stroke-width="1.7" fill="none"/>
<path d="M641.7 103.3V126.4M638.7 103.3h6M638.7 126.4h6" stroke="#f0f" stroke-width="1.7" fill="none"/>
<polygon points="427.3,215.54 432.5,206.6 422.1,206.6" fill="#fff" stroke="#f0f" stroke-width="1.8"/>
<polygon points="463.2,176.54 468.4,167.6 458,167.6" fill="#fff" stroke="#f0f" stroke-width="1.8"/>
<polygon points="481,162.24 486.2,153.3 475.8,153.3" fill="#fff" stroke="#f0f" stroke-width="1.8"/>
<polygon points="498.6,146.54 503.8,137.6 493.4,137.6" fill="#fff" stroke="#f0f" stroke-width="1.8"/>
<polygon points="517.3,134.24 522.5,125.3 512.1,125.3" fill="#fff" stroke="#f0f" stroke-width="1.8"/>
<polygon points="534.8,119.74 540,110.8 529.6,110.8" fill="#fff" stroke="#f0f" stroke-width="1.8"/>
<polygon points="552.6,125.54 557.8,116.6 547.4,116.6" fill="#fff" stroke="#f0f" stroke-width="1.8"/>
<polygon points="570.2,119.34 575.4,110.4 565,110.4" fill="#fff" stroke="#f0f" stroke-width="1.8"/>
<polygon points="587.5,97.84 592.7,88.9 582.3,88.9" fill="#fff" stroke="#f0f" stroke-width="1.8"/>
<polygon points="606.4,76.94 611.6,68 601.2,68" fill="#fff" stroke="#f0f" stroke-width="1.8"/>
<polygon points="641.7,120.04 646.9,111.1 636.5,111.1" fill="#fff" stroke="#f0f" stroke-width="1.8"/>
<path d="M441.6 189.4V203M438.6 189.4h6M438.6 203h6" stroke="#00f" stroke-width="1.7" fill="none"/>
<path d="M460.9 169.3V187M457.9 169.3h6M457.9 187h6" stroke="#00f" stroke-width="1.7" fill="none"/>
<path d="M479 150V171.6M476 150h6M476 171.6h6" stroke="#00f" stroke-width="1.7" fill="none"/>
<path d="M497.4 147.8V169.9M494.4 147.8h6M494.4 169.9h6" stroke="#00f" stroke-width="1.7" fill="none"/>
<path d="M515.3 150V157.5M512.3 150h6M512.3 157.5h6" stroke="#00f" stroke-width="1.7" fill="none"/>
<path d="M535.9 136.3V149.4M532.9 136.3h6M532.9 149.4h6" stroke="#00f" stroke-width="1.7" fill="none"/>
<path d="M552.9 114.7V131M549.9 114.7h6M549.9 131h6" stroke="#00f" stroke-width="1.7" fill="none"/>
<path d="M572.2 122.6V140.8M569.2 122.6h6M569.2 140.8h6" stroke="#00f" stroke-width="1.7" fill="none"/>
<path d="M591.3 112.5V133.3M588.3 112.5h6M588.3 133.3h6" stroke="#00f" stroke-width="1.7" fill="none"/>
<path d="M629.2 109.7V132.8M626.2 109.7h6M626.2 132.8h6" stroke="#00f" stroke-width="1.7" fill="none"/>
<path d="M666.7 113.3V136.1M663.7 113.3h6M663.7 136.1h6" stroke="#00f" stroke-width="1.7" fill="none"/>
<polygon points="403.4,223.86 408.6,232.8 398.2,232.8" fill="#fff" stroke="#00f" stroke-width="1.8"/>
<polygon points="422.9,208.46 428.1,217.4 417.7,217.4" fill="#fff" stroke="#00f" stroke-width="1.8"/>
<polygon points="441.6,190.76 446.8,199.7 436.4,199.7" fill="#fff" stroke="#00f" stroke-width="1.8"/>
<polygon points="460.9,170.76 466.1,179.7 455.7,179.7" fill="#fff" stroke="#00f" stroke-width="1.8"/>
<polygon points="479,156.46 484.2,165.4 473.8,165.4" fill="#fff" stroke="#00f" stroke-width="1.8"/>
<polygon points="497.4,153.26 502.6,162.2 492.2,162.2" fill="#fff" stroke="#00f" stroke-width="1.8"/>
<polygon points="515.3,148.66 520.5,157.6 510.1,157.6" fill="#fff" stroke="#00f" stroke-width="1.8"/>
<polygon points="535.9,137.26 541.1,146.2 530.7,146.2" fill="#fff" stroke="#00f" stroke-width="1.8"/>
<polygon points="552.9,118.46 558.1,127.4 547.7,127.4" fill="#fff" stroke="#00f" stroke-width="1.8"/>
<polygon points="572.2,126.16 577.4,135.1 567,135.1" fill="#fff" stroke="#00f" stroke-width="1.8"/>
<polygon points="591.3,117.46 596.5,126.4 586.1,126.4" fill="#fff" stroke="#00f" stroke-width="1.8"/>
<polygon points="629.2,116.06 634.4,125 624,125" fill="#fff" stroke="#00f" stroke-width="1.8"/>
<polygon points="666.7,118.06 671.9,127 661.5,127" fill="#fff" stroke="#00f" stroke-width="1.8"/>
<path d="M471 185.2V203.2M468 185.2h6M468 203.2h6" stroke="#f00" stroke-width="1.7" fill="none"/>
<path d="M492.2 170V183M489.2 170h6M489.2 183h6" stroke="#f00" stroke-width="1.7" fill="none"/>
<path d="M534.6 150.1V164.6M531.6 150.1h6M531.6 164.6h6" stroke="#f00" stroke-width="1.7" fill="none"/>
<path d="M577.5 137.8V154.4M574.5 137.8h6M574.5 154.4h6" stroke="#f00" stroke-width="1.7" fill="none"/>
<circle cx="449.4" cy="195.2" r="4.1" fill="#fff" stroke="#f00" stroke-width="1.8"/>
<circle cx="471" cy="194.3" r="4.1" fill="#fff" stroke="#f00" stroke-width="1.8"/>
<circle cx="492.2" cy="177.5" r="4.1" fill="#fff" stroke="#f00" stroke-width="1.8"/>
<circle cx="534.6" cy="157.3" r="4.1" fill="#fff" stroke="#f00" stroke-width="1.8"/>
<circle cx="577.5" cy="146.4" r="4.1" fill="#fff" stroke="#f00" stroke-width="1.8"/>
<path d="M395.3 242V248M392.3 242h6M392.3 248h6" stroke="#000" stroke-width="1.7" fill="none"/>
<path d="M541.3 182.6V194.3M538.3 182.6h6M538.3 194.3h6" stroke="#000" stroke-width="1.7" fill="none"/>
<rect x="391.9" y="241.6" width="6.8" height="6.8" fill="#fff" stroke="#000" stroke-width="1.8"/>
<rect x="409.1" y="223.6" width="6.8" height="6.8" fill="#fff" stroke="#000" stroke-width="1.8"/>
<rect x="430.8" y="218.2" width="6.8" height="6.8" fill="#fff" stroke="#000" stroke-width="1.8"/>
<rect x="452.1" y="204.9" width="6.8" height="6.8" fill="#fff" stroke="#000" stroke-width="1.8"/>
<rect x="537.9" y="184.8" width="6.8" height="6.8" fill="#fff" stroke="#000" stroke-width="1.8"/>
<g fill="none" stroke="#000" stroke-width="1.85">
<rect x="61" y="34.3" width="305" height="230.1"/>
<rect x="373.5" y="34.3" width="308.8" height="230.1"/>
</g>
<path d="M96.4 264.4v-5M96.4 34.3v5M168.4 264.4v-5M168.4 34.3v5M240.4 264.4v-5M240.4 34.3v5M312.4 264.4v-5M312.4 34.3v5M132.4 264.4v-3M132.4 34.3v3M204.4 264.4v-3M204.4 34.3v3M276.4 264.4v-3M276.4 34.3v3M348.4 264.4v-3M348.4 34.3v3M61 187.7h5M366 187.7h-5M373.5 187.7h5M682.3 187.7h-5M61 111h5M366 111h-5M373.5 111h5M682.3 111h-5M61 226.05h3M366 226.05h-3M373.5 226.05h3M682.3 226.05h-3M61 149.35h3M366 149.35h-3M373.5 149.35h3M682.3 149.35h-3M61 72.65h3M366 72.65h-3M373.5 72.65h3M682.3 72.65h-3M446.98 264.4v-5M446.98 34.3v5M520.65 264.4v-5M520.65 34.3v5M594.33 264.4v-5M594.33 34.3v5M668 264.4v-5M668 34.3v5M410.14 264.4v-3M410.14 34.3v3M483.81 264.4v-3M483.81 34.3v3M557.49 264.4v-3M557.49 34.3v3M631.16 264.4v-3M631.16 34.3v3" stroke="#000" stroke-width="1.6" fill="none"/>
<g font-size="18" fill="#000" text-anchor="middle">
<text x="96.4" y="283.6">50</text>
<text x="168.4" y="283.6">60</text>
<text x="240.4" y="283.6">70</text>
<text x="312.4" y="283.6">80</text>
<text x="373.3" y="283.6">0.0</text>
<text x="446.98" y="283.6">0.5</text>
<text x="520.65" y="283.6">1.0</text>
<text x="594.33" y="283.6">1.5</text>
<text x="668" y="283.6">2.0</text>
</g><g font-size="18" fill="#000" text-anchor="end">
<text x="56" y="269.9">0.0</text>
<text x="56" y="193.2">0.5</text>
<text x="56" y="116.5">1.0</text>
<text x="56" y="39.8">1.5</text>
</g>
<rect x="104.5" y="42.2" width="165.4" height="121.6" fill="#fff" stroke="none"/>
<g clip-path="url(#ci)">
<path d="M165 119.5H174M165 118v3M174 118v3" stroke="#f0f" stroke-width="1.1" fill="none"/>
<path d="M169.4 113V123.5M167.9 113h3M167.9 123.5h3" stroke="#f0f" stroke-width="1.0" fill="none"/>
<path d="M172 104.1H184M172 102.6v3M184 102.6v3" stroke="#f0f" stroke-width="1.1" fill="none"/>
<path d="M177.4 97.6V108.1M175.9 97.6h3M175.9 108.1h3" stroke="#f0f" stroke-width="1.0" fill="none"/>
<path d="M209.4 65.2H218.8M209.4 63.7v3M218.8 63.7v3" stroke="#f0f" stroke-width="1.1" fill="none"/>
<path d="M213.9 58.7V69.2M212.4 58.7h3M212.4 69.2h3" stroke="#f0f" stroke-width="1.0" fill="none"/>
<path d="M223.6 60.3H233.3M223.6 58.8v3M233.3 58.8v3" stroke="#f0f" stroke-width="1.1" fill="none"/>
<path d="M228.5 53.8V64.3M227 53.8h3M227 64.3h3" stroke="#f0f" stroke-width="1.0" fill="none"/>
<path d="M217 69.4H226M217 67.9v3M226 67.9v3" stroke="#f0f" stroke-width="1.1" fill="none"/>
<path d="M221.5 62.9V73.4M220 62.9h3M220 73.4h3" stroke="#f0f" stroke-width="1.0" fill="none"/>
<path d="M227 68.4H237M227 66.9v3M237 66.9v3" stroke="#f0f" stroke-width="1.1" fill="none"/>
<path d="M232 61.9V72.4M230.5 61.9h3M230.5 72.4h3" stroke="#f0f" stroke-width="1.0" fill="none"/>
<path d="M236 69.4H247M236 67.9v3M247 67.9v3" stroke="#f0f" stroke-width="1.1" fill="none"/>
<path d="M241.7 62.9V73.4M240.2 62.9h3M240.2 73.4h3" stroke="#f0f" stroke-width="1.0" fill="none"/>
<path d="M247.9 70.8H262M247.9 69.3v3M262 69.3v3" stroke="#f0f" stroke-width="1.1" fill="none"/>
<path d="M255.6 64.3V74.8M254.1 64.3h3M254.1 74.8h3" stroke="#f0f" stroke-width="1.0" fill="none"/>
<path d="M225 75.6H235M225 74.1v3M235 74.1v3" stroke="#f0f" stroke-width="1.1" fill="none"/>
<path d="M229.9 69.1V79.6M228.4 69.1h3M228.4 79.6h3" stroke="#f0f" stroke-width="1.0" fill="none"/>
<path d="M219 81.2H229M219 79.7v3M229 79.7v3" stroke="#f0f" stroke-width="1.1" fill="none"/>
<path d="M224.3 74.7V85.2M222.8 74.7h3M222.8 85.2h3" stroke="#f0f" stroke-width="1.0" fill="none"/>
<path d="M211 87.4H220M211 85.9v3M220 85.9v3" stroke="#f0f" stroke-width="1.1" fill="none"/>
<path d="M215.3 80.9V91.4M213.8 80.9h3M213.8 91.4h3" stroke="#f0f" stroke-width="1.0" fill="none"/>
<polygon points="169.4,123.33 173.6,116.1 165.2,116.1" fill="#fff" stroke="#f0f" stroke-width="1.05"/>
<polygon points="177.4,107.93 181.6,100.7 173.2,100.7" fill="#fff" stroke="#f0f" stroke-width="1.05"/>
<polygon points="213.9,69.03 218.1,61.8 209.7,61.8" fill="#fff" stroke="#f0f" stroke-width="1.05"/>
<polygon points="228.5,64.13 232.7,56.9 224.3,56.9" fill="#fff" stroke="#f0f" stroke-width="1.05"/>
<polygon points="221.5,73.23 225.7,66 217.3,66" fill="#fff" stroke="#f0f" stroke-width="1.05"/>
<polygon points="232,72.23 236.2,65 227.8,65" fill="#fff" stroke="#f0f" stroke-width="1.05"/>
<polygon points="241.7,73.23 245.9,66 237.5,66" fill="#fff" stroke="#f0f" stroke-width="1.05"/>
<polygon points="255.6,74.63 259.8,67.4 251.4,67.4" fill="#fff" stroke="#f0f" stroke-width="1.05"/>
<polygon points="229.9,79.43 234.1,72.2 225.7,72.2" fill="#fff" stroke="#f0f" stroke-width="1.05"/>
<polygon points="224.3,85.03 228.5,77.8 220.1,77.8" fill="#fff" stroke="#f0f" stroke-width="1.05"/>
<polygon points="215.3,91.23 219.5,84 211.1,84" fill="#fff" stroke="#f0f" stroke-width="1.05"/>
<polygon points="212,91.33 216.2,84.1 207.8,84.1" fill="#fff" stroke="#f0f" stroke-width="1.05"/>
<path d="M201 88.8H211M201 87.3v3M211 87.3v3" stroke="#00f" stroke-width="1.1" fill="none"/>
<path d="M204 80H215M204 78.5v3M215 78.5v3" stroke="#00f" stroke-width="1.1" fill="none"/>
<path d="M212 85.8H222M212 84.3v3M222 84.3v3" stroke="#00f" stroke-width="1.1" fill="none"/>
<path d="M205.6 75.4H220.8M205.6 73.9v3M220.8 73.9v3" stroke="#00f" stroke-width="1.1" fill="none"/>
<path d="M214 79.5H225M214 78v3M225 78v3" stroke="#00f" stroke-width="1.1" fill="none"/>
<polygon points="147.7,123.52 151.3,129.71 144.1,129.71" fill="#fff" stroke="#00f" stroke-width="1.15"/>
<polygon points="169.6,109.22 173.2,115.41 166,115.41" fill="#fff" stroke="#00f" stroke-width="1.15"/>
<polygon points="187.2,98.62 190.8,104.81 183.6,104.81" fill="#fff" stroke="#00f" stroke-width="1.15"/>
<polygon points="193.3,90.22 196.9,96.41 189.7,96.41" fill="#fff" stroke="#00f" stroke-width="1.15"/>
<polygon points="205.7,85.52 209.3,91.71 202.1,91.71" fill="#fff" stroke="#00f" stroke-width="1.15"/>
<polygon points="209.6,76.72 213.2,82.91 206,82.91" fill="#fff" stroke="#00f" stroke-width="1.15"/>
<polygon points="217,82.52 220.6,88.71 213.4,88.71" fill="#fff" stroke="#00f" stroke-width="1.15"/>
<polygon points="213.3,72.12 216.9,78.31 209.7,78.31" fill="#fff" stroke="#00f" stroke-width="1.15"/>
<polygon points="219,76.22 222.6,82.41 215.4,82.41" fill="#fff" stroke="#00f" stroke-width="1.15"/>
<polygon points="211.5,81.22 215.1,87.41 207.9,87.41" fill="#fff" stroke="#00f" stroke-width="1.15"/>
<circle cx="183" cy="104.8" r="3.6" fill="#fff" stroke="#f00" stroke-width="1.2"/>
<circle cx="198.2" cy="97.3" r="3.6" fill="#fff" stroke="#f00" stroke-width="1.2"/>
<circle cx="200.9" cy="86.2" r="3.6" fill="#fff" stroke="#f00" stroke-width="1.2"/>
<circle cx="204.4" cy="90.2" r="3.6" fill="#fff" stroke="#f00" stroke-width="1.2"/>
<rect x="124.5" y="150.4" width="5.4" height="5.4" fill="#fff" stroke="#000" stroke-width="1.3"/>
<rect x="146.8" y="127.8" width="5.4" height="5.4" fill="#fff" stroke="#000" stroke-width="1.3"/>
<rect x="155.7" y="122.7" width="5.4" height="5.4" fill="#fff" stroke="#000" stroke-width="1.3"/>
<rect x="164.2" y="111.7" width="5.4" height="5.4" fill="#fff" stroke="#000" stroke-width="1.3"/>
<rect x="187.7" y="100.8" width="5.4" height="5.4" fill="#fff" stroke="#000" stroke-width="1.3"/>
</g>
<g clip-path="url(#ci)"><line x1="104.5" y1="163.8" x2="269.9" y2="42.2" stroke="#000" stroke-width="1.6"/></g>
<rect x="104.5" y="42.2" width="165.4" height="121.6" fill="none" stroke="#000" stroke-width="1.5"/>
<path d="M138.22 163.8v-4M138.22 42.2v4M104.5 139.03h4M269.9 139.03h-4M250.22 163.8v-4M250.22 42.2v4M104.5 56.73h4M269.9 56.73h-4M113.37 163.8v-2.3M113.37 42.2v2.3M104.5 157.28h2.3M269.9 157.28h-2.3M120.87 163.8v-2.3M120.87 42.2v2.3M104.5 151.77h2.3M269.9 151.77h-2.3M127.36 163.8v-2.3M127.36 42.2v2.3M104.5 147h2.3M269.9 147h-2.3M133.09 163.8v-2.3M133.09 42.2v2.3M104.5 142.79h2.3M269.9 142.79h-2.3M171.93 163.8v-2.3M171.93 42.2v2.3M104.5 114.25h2.3M269.9 114.25h-2.3M191.65 163.8v-2.3M191.65 42.2v2.3M104.5 99.76h2.3M269.9 99.76h-2.3M205.65 163.8v-2.3M205.65 42.2v2.3M104.5 89.48h2.3M269.9 89.48h-2.3M216.5 163.8v-2.3M216.5 42.2v2.3M104.5 81.5h2.3M269.9 81.5h-2.3M225.37 163.8v-2.3M225.37 42.2v2.3M104.5 74.98h2.3M269.9 74.98h-2.3M232.87 163.8v-2.3M232.87 42.2v2.3M104.5 69.47h2.3M269.9 69.47h-2.3M239.36 163.8v-2.3M239.36 42.2v2.3M104.5 64.7h2.3M269.9 64.7h-2.3M245.09 163.8v-2.3M245.09 42.2v2.3M104.5 60.49h2.3M269.9 60.49h-2.3" stroke="#000" stroke-width="1.2" fill="none"/>
<g font-size="12" fill="#000">
<text x="138.22" y="177.2" text-anchor="middle">1</text>
<text x="250.22" y="177.2" text-anchor="middle">10</text>
<text x="101.5" y="60.73" text-anchor="end">10</text>
<text x="101.5" y="143.03" text-anchor="end">1</text>
</g>
<text x="153.60" y="185.70" font-size="20.3">tan</text>
<text transform="translate(179.44,185.80) skewX(-10) scale(1.08,1)" font-size="20.5" font-style="italic">θ</text>
<text x="194.24" y="175.80" font-size="11">*</text>
<text x="196.72" y="187.67" font-size="21">−</text>
<text transform="translate(212.85,185.85) skewX(-11) scale(1.05,1)" font-size="19.5" font-style="italic">μ</text>
<text x="224.65" y="193.20" font-size="12.5">r</text>
<g transform="translate(88.30,125.60) rotate(-90) skewX(-12) scale(0.9,1)"><text x="-1.26" y="0" font-size="25" font-style="italic" stroke="#000" stroke-width="0.40">O</text><path d="M6.07,-0.80L0.09,2.95C4.02,4.20 10.27,3.93 17.68,0.98C10.27,2.32 5.36,2.32 2.59,2.14L7.41,-0.54Z" fill="#000"/></g>
<text transform="translate(74.06,108.69) rotate(-90)" font-size="12">*</text>
<text transform="translate(95.97,111.73) rotate(-90)" font-size="13">s</text>
<text transform="translate(87.42,101.20) rotate(-90) scale(1.3,1)" font-size="24">/</text>
<text transform="translate(87.77,93.73) rotate(-90)" font-size="22" font-style="italic" class="th">q</text>
<text transform="translate(95.84,81.59) rotate(-90) scale(1.2,1)" font-size="13.5" font-style="italic">θ</text>
<text x="65.05" y="18.30" font-size="24">(a)</text>
<text x="387.25" y="18.30" font-size="24">(b)</text>
<line x1="401" y1="59.3" x2="440" y2="59.3" stroke="#000" stroke-width="2" stroke-dasharray="9,7"/>
<g transform="translate(443.80,65.20) skewX(-12) scale(0.9,1)"><text x="-0.94" y="0" font-size="18.6" font-style="italic" stroke="#000" stroke-width="0.30">O</text><path d="M4.52,-0.60L0.07,2.19C2.99,3.12 7.64,2.92 13.15,0.73C7.64,1.73 3.99,1.73 1.93,1.59L5.51,-0.40Z" fill="#000"/></g>
<text x="455.00" y="57.45" font-size="10">*</text>
<text x="454.93" y="69.80" font-size="10">s</text>
<text x="463.85" y="64.90" font-size="17">=</text>
<g transform="translate(478.40,65.20) skewX(-12) scale(0.9,1)"><text x="-0.94" y="0" font-size="18.6" font-style="italic" stroke="#000" stroke-width="0.30">O</text><path d="M4.52,-0.60L0.07,2.19C2.99,3.12 7.64,2.92 13.15,0.73C7.64,1.73 3.99,1.73 1.93,1.59L5.51,-0.40Z" fill="#000"/></g>
<text x="489.48" y="69.80" font-size="10">g</text>
<text transform="translate(181.40,313.05) skewX(-10) scale(1.12,1)" font-size="26" font-style="italic" class="th">θ</text>
<text x="200.67" y="304.10" font-size="16.5">*</text>
<text x="210.01" y="311.23" font-size="27" class="th">(°)</text>
<g transform="translate(457.60,310.50) skewX(-12) scale(0.9,1)"><text x="-1.46" y="0" font-size="29" font-style="italic" stroke="#000" stroke-width="0.46">O</text><path d="M7.04,-0.93L0.10,3.42C4.66,4.87 11.91,4.56 20.51,1.14C11.91,2.69 6.21,2.69 3.00,2.49L8.60,-0.62Z" fill="#000"/></g>
<text x="476.33" y="320.67" font-size="16.5">g</text>
<text x="492.00" y="309.34" font-size="27.3" class="th">(ml/min)</text>
<g transform="translate(28.00,224.30) rotate(-90) skewX(-12) scale(0.9,1)"><text x="-1.52" y="0" font-size="30.2" font-style="italic" stroke="#000" stroke-width="0.48">O</text><path d="M7.33,-0.97L0.11,3.56C4.85,5.07 12.40,4.75 21.36,1.19C12.40,2.80 6.47,2.80 3.13,2.59L8.95,-0.65Z" fill="#000"/></g>
<text transform="translate(11.92,203.33) rotate(-90)" font-size="15">*</text>
<text transform="translate(35.06,205.39) rotate(-90)" font-size="14.5">s</text>
<text transform="translate(27.10,188.33) rotate(-90)" font-size="28" class="th">(ml/min)</text>
</svg></body></html>
